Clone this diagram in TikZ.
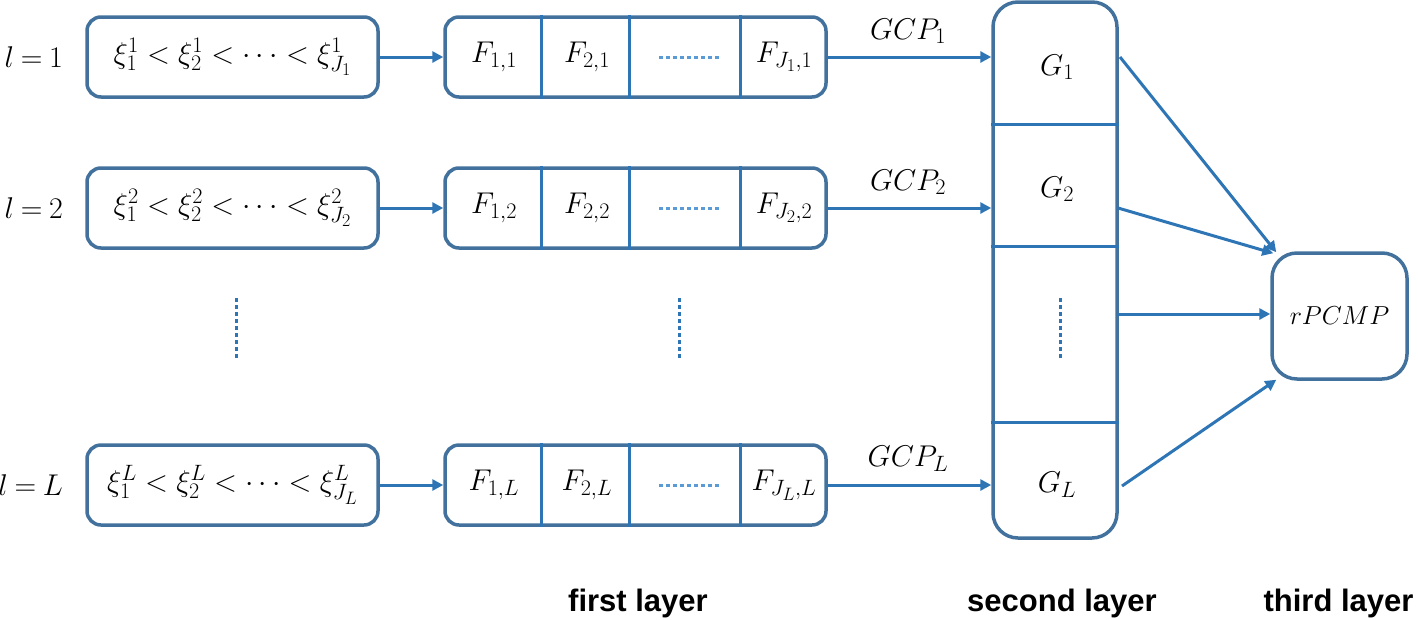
\RequirePackage{fix-cm}
\documentclass[tikz,border=0pt]{standalone}
\usepackage{fontspec}
\usepackage{amsmath}
\newfontfamily\layfont{Liberation Sans}
\renewcommand\defaultscriptratio{.74}
\renewcommand\defaultscriptscriptratio{.6}
\usetikzlibrary{arrows.meta,calc}
\definecolor{boxc}{RGB}{65,113,156}
\definecolor{arrc}{RGB}{46,117,182}
\definecolor{dotc}{RGB}{91,155,213}
\begin{document}
\begin{tikzpicture}[x=1pt,y=-1pt,
 every node/.style={font=\fontsize{30}{34}\selectfont},
 box/.style={draw=boxc,line width=3.5pt,rounded corners=14pt,inner sep=0pt},
 arr/.style={draw=arrc,line width=3pt,-{Triangle[length=11pt,width=11pt]}},
 div/.style={draw=arrc,line width=3pt},
 hdots/.style={draw=dotc,line width=3pt,dash pattern=on 4pt off 3pt},
 vdots/.style={draw=arrc,line width=3pt,dash pattern=on 4pt off 3pt},
 lay/.style={font=\layfont\bfseries\fontsize{31}{34}\selectfont,anchor=base}
]
\useasboundingbox (0,0) rectangle (1418,619);
% second layer box
\node[box,rounded corners=25pt,minimum width=124pt,minimum height=536pt] (G) at (1055,270) {};
\coordinate (h1) at (0,124);
\coordinate (h2) at (0,246);
\coordinate (h3) at (0,422);
\draw[div] (G.west |- h1) -- (G.east |- h1);
\draw[div] (G.west |- h2) -- (G.east |- h2);
\draw[div] (G.west |- h3) -- (G.east |- h3);
\node (g1) at (1057,67) {$G_1$};
\node (g2) at (1057,189) {$G_2$};
\node (gL) at (1057,485) {$G_L$};
\draw[vdots] (1060,298) -- (1060,360);
% rows
\foreach \r/\y/\s in {1/57/1, 2/208/2, L/485/L}{
  \node[anchor=east,inner sep=0pt] (l\r) at (63,\y) {$l\mskip4mu{=}\mskip4mu\s$};
  \node[box,minimum width=291pt,minimum height=80pt] (xi\r) at (232.5,\y) {$\xi_1^{\s}<\xi_2^{\s}<\cdots<\xi_{J_{\s}}^{\s}$};
  \node[box,minimum width=381pt,minimum height=80pt] (F\r) at (635.5,\y) {};
  \draw[div] ([xshift=98pt]F\r.north west) -- ([xshift=98pt]F\r.south west);
  \draw[div] ([xshift=186pt]F\r.north west) -- ([xshift=186pt]F\r.south west);
  \draw[div] ([xshift=297pt]F\r.north west) -- ([xshift=297pt]F\r.south west);
  \node (fa\r) at (494,\y) {$F_{1,\s}$};
  \node (fb\r) at (587,\y) {$F_{2,\s}$};
  \node (fc\r) at (784,\y) {$F_{J_{\s},\s}$};
  \draw[hdots] (659,\y) -- (721,\y);
  \node (gcp\r) at (908,{\y-26}) {$GCP_{\s}$};
  \draw[arr] (xi\r.east) -- (F\r.west);
  \draw[arr] (F\r.east) -- (F\r.east -| G.west);
}
\draw[vdots] (236,298) -- (236,360);
\draw[vdots] (679,298) -- (679,360);
% third layer
\node[box,rounded corners=25pt,minimum width=135pt,minimum height=126pt,font=\fontsize{26}{30}\selectfont] (R) at (1339.5,316) {$rPCMP$};
\coordinate (o1) at (1120,57);
\coordinate (o2) at (1118,208);
\coordinate (o3) at (1118,314);
\coordinate (o4) at (1122,486);
\draw[arr] (o1) -- ([xshift=6pt,yshift=-1pt]R.north west);
\draw[arr] (o2) -- ([xshift=3pt,yshift=-2pt]R.north west);
\draw[arr] (o3) -- (o3 -| R.west);
\draw[arr] (o4) -- ([xshift=6pt,yshift=1pt]R.south west);
% layer labels
\node[lay] (lay1) at (638,611) {first layer};
\node[lay] (lay2) at (1062,611) {second layer};
\node[lay,anchor=base east] (lay3) at (1417,611) {third layer};
\end{tikzpicture}
\end{document}
